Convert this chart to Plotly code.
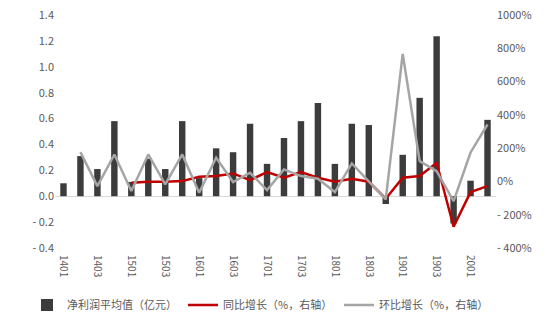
import plotly.graph_objects as go

quarters = [f"{y}0{q}" for y in range(14, 20) for q in range(1, 5)] + ["2001", "2002"]

# 净利润平均值（亿元）
net_profit = [0.10, 0.31, 0.21, 0.58, 0.11, 0.29, 0.21, 0.58, 0.14, 0.37, 0.34, 0.56,
              0.25, 0.45, 0.58, 0.72, 0.25, 0.56, 0.55, -0.06, 0.32, 0.76, 1.235, -0.21,
              0.12, 0.59]

# 同比增长（%）
yoy = [None, None, None, None, -8, -2, -2, 2, 28, 32, 48, 8,
       56, 22, 56, 22, -2, 16, -2, -104, 22, 32, 112, -272,
       -64, -28]

# 环比增长（%）
qoq = [None, 176, -28, 162, -58, 162, -18, 162, -68, 142, -4, 52,
       -52, 72, 32, 16, -64, 108, 2, -108, 766, 122, 62, -118,
       174, 342]

left_ticks = [-0.4, -0.2, 0.0, 0.2, 0.4, 0.6, 0.8, 1.0, 1.2, 1.4]
right_ticks = [-400, -200, 0, 200, 400, 600, 800, 1000]

font_family = "Noto Sans CJK SC"
tick_color = "#595959"

fig = go.Figure()
fig.add_trace(go.Bar(
    x=quarters, y=net_profit, name="净利润平均值（亿元）",
    marker=dict(color="#3C3C3C", line=dict(width=0)),
))
fig.add_trace(go.Scatter(
    x=quarters, y=yoy, name="同比增长（%，右轴）", yaxis="y2",
    mode="lines", line=dict(color="#C00000", width=2.5),
))
fig.add_trace(go.Scatter(
    x=quarters, y=qoq, name="环比增长（%，右轴）", yaxis="y2",
    mode="lines", line=dict(color="#A5A5A5", width=2.5),
))

fig.update_layout(
    width=550, height=327,
    margin=dict(l=55, r=54, t=15, b=79, autoexpand=False),
    paper_bgcolor="white", plot_bgcolor="white",
    font=dict(family=font_family, size=11, color=tick_color),
    bargap=0.62,
    showlegend=True,
    legend=dict(orientation="h", x=-0.0635, xanchor="left",
                y=-0.245, yanchor="middle",
                font=dict(size=11, color=tick_color), itemwidth=30,
                entrywidth=111, traceorder="normal", tracegroupgap=0),
    xaxis=dict(
        type="category", tickangle=90, showgrid=False, showline=False,
        tickvals=quarters[::2], ticktext=quarters[::2], automargin=False,
        tickfont=dict(size=10, color=tick_color), ticks="", ticklabelstandoff=6,
    ),
    yaxis=dict(
        range=[-0.4, 1.4], tickvals=left_ticks, automargin=False,
        ticktext=[f"{v:.1f}".replace("-", "- ") for v in left_ticks],
        showgrid=False, zeroline=True, zerolinecolor="#D9D9D9", zerolinewidth=1,
        showline=False, tickfont=dict(size=11, color=tick_color),
    ),
    yaxis2=dict(
        range=[-400, 1000], overlaying="y", side="right", tickvals=right_ticks,
        ticktext=[f"{v}%".replace("-", "- ") for v in right_ticks], automargin=False,
        showgrid=False, zeroline=False, showline=False,
        tickfont=dict(size=11, color=tick_color),
    ),
)

fig.write_html("out.html")
